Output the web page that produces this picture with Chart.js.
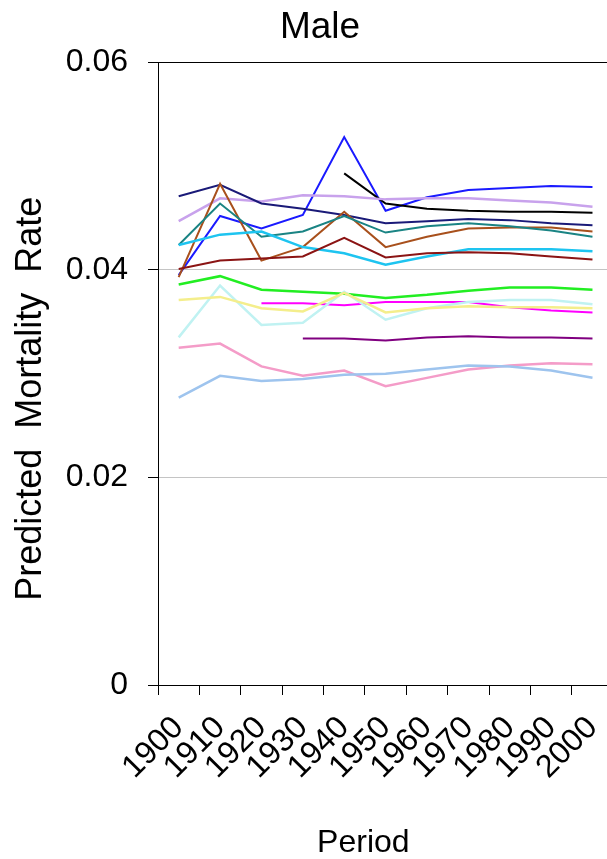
<!DOCTYPE html>
<html>
<head>
<meta charset="utf-8">
<script src="https://cdn.jsdelivr.net/npm/chart.js@4/dist/chart.umd.min.js"></script>
<style>
  html, body { margin: 0; padding: 0; overflow: hidden; background: #fff; }
  #wrap { width: 634px; height: 859px; }
</style>
</head>
<body>
<div id="wrap"><canvas id="myChart" width="634" height="859"></canvas></div>
<script>
// periods on the x axis
const periods = ['1900', '1910', '1920', '1930', '1940', '1950', '1960', '1970', '1980', '1990', '2000'];
const yTicks = [0, 0.02, 0.04, 0.06];

// one small array per cohort line
const navy = [0.0471, 0.0482, 0.0464, 0.0459, 0.0453, 0.0445, 0.0447, 0.0449, 0.0448, 0.0445, 0.0443];
const brown = [0.0393, 0.0483, 0.0409, 0.0422, 0.0456, 0.0422, 0.0432, 0.0440, 0.0441, 0.0441, 0.0437];
const blue = [0.0395, 0.0452, 0.0440, 0.0453, 0.0528, 0.0457, 0.0470, 0.0477, 0.0479, 0.0481, 0.0480];
const lavender = [0.0447, 0.0469, 0.0466, 0.0472, 0.0471, 0.0468, 0.0469, 0.0469, 0.0467, 0.0465, 0.0461];
const black = [null, null, null, null, 0.0493, 0.0464, 0.0459, 0.0457, 0.0456, 0.0456, 0.0455];
const teal = [0.0424, 0.0464, 0.0432, 0.0437, 0.0452, 0.0436, 0.0442, 0.0445, 0.0442, 0.0438, 0.0432];
const sky = [0.0424, 0.0434, 0.0437, 0.0422, 0.0416, 0.0405, 0.0413, 0.0420, 0.0420, 0.0420, 0.0418];
const darkRed = [0.0401, 0.0409, 0.0411, 0.0413, 0.0431, 0.0412, 0.0416, 0.0417, 0.0416, 0.0413, 0.0410];
const green = [0.0386, 0.0394, 0.0381, 0.0379, 0.0377, 0.0373, 0.0376, 0.0380, 0.0383, 0.0383, 0.0381];
const paleCyan = [0.0335, 0.0385, 0.0347, 0.0349, 0.0379, 0.0352, 0.0363, 0.0369, 0.0371, 0.0371, 0.0367];
const paleYellow = [0.0371, 0.0374, 0.0363, 0.0360, 0.0378, 0.0359, 0.0363, 0.0365, 0.0364, 0.0364, 0.0363];
const magenta = [null, null, 0.0368, 0.0368, 0.0366, 0.0369, 0.0369, 0.0369, 0.0364, 0.0361, 0.0359];
const purple = [null, null, null, 0.0334, 0.0334, 0.0332, 0.0335, 0.0336, 0.0335, 0.0335, 0.0334];
const pink = [0.0325, 0.0329, 0.0307, 0.0298, 0.0303, 0.0288, 0.0296, 0.0304, 0.0308, 0.0310, 0.0309];
const lightBlue = [0.0277, 0.0298, 0.0293, 0.0295, 0.0299, 0.0300, 0.0304, 0.0308, 0.0307, 0.0303, 0.0296];

const FONT = "'Liberation Sans', Arial, Helvetica, sans-serif";

const line = (data, color, width) => ({
    data: data,
    borderColor: color,
    backgroundColor: color,
    borderWidth: width || 2,
    pointRadius: 0,
    tension: 0,
    fill: false
});

const ctx = document.getElementById('myChart').getContext('2d');

new Chart(ctx, {
    type: 'line',
    data: {
        labels: periods,
        datasets: [
            line(lightBlue, '#9ec4ee', 2.5),
            line(pink, '#f49cc8', 2.5),
            line(purple, '#800080'),
            line(paleYellow, '#f4ee8c', 2.5),
            line(paleCyan, '#c0f2f2', 2.5),
            line(magenta, '#ff00ff'),
            line(green, '#22ee22', 2.5),
            line(darkRed, '#8b1414'),
            line(sky, '#1ec4f0', 2.5),
            line(teal, '#1a8484'),
            line(brown, '#a8501c'),
            line(navy, '#1a1a78'),
            line(lavender, '#c8a2ec', 2.5),
            line(black, '#000000'),
            line(blue, '#1a1aff')
        ]
    },
    options: {
        responsive: false,
        animation: false,
        layout: { padding: { left: 14, right: 8, top: 0, bottom: 0 } },
        plugins: {
            legend: { display: false },
            tooltip: { enabled: false },
            title: {
                display: true,
                text: 'Male',
                color: '#000',
                font: { family: FONT, size: 37, weight: 'normal' },
                padding: { top: 6, bottom: 12 }
            }
        },
        scales: {
            x: {
                offset: true,
                grid: {
                    offset: true,
                    drawOnChartArea: false,
                    drawTicks: true,
                    tickLength: 10,
                    tickColor: '#000',
                    tickWidth: 1
                },
                border: { display: true, color: '#000', width: 1 },
                ticks: {
                    color: '#000',
                    font: { family: FONT, size: 32 },
                    maxRotation: 45,
                    minRotation: 45,
                    autoSkip: false,
                    padding: 14
                },
                title: {
                    display: true,
                    text: 'Period     ',
                    color: '#000',
                    font: { family: FONT, size: 32, lineHeight: 0.9 },
                    padding: { top: 0, bottom: 1 }
                },
                afterFit: scale => { scale.height = 174; }
            },
            y: {
                min: 0,
                max: 0.06,
                afterBuildTicks: scale => {
                    scale.ticks = yTicks.map(v => ({ value: v }));
                },
                grid: {
                    color: c => (c.tick && (c.tick.value === 0 || c.tick.value === 0.06)) ? '#000' : '#c4c4c4',
                    tickColor: '#000',
                    tickLength: 10,
                    lineWidth: 1
                },
                border: { display: true, color: '#000', width: 1 },
                ticks: {
                    color: '#000',
                    font: { family: FONT, size: 32 },
                    padding: 20,
                    callback: v => v === 0 ? '0' : v.toFixed(2)
                },
                title: {
                    display: true,
                    text: 'Predicted  Mortality  Rate     ',
                    color: '#000',
                    font: { family: FONT, size: 36, lineHeight: 0.8 },
                    padding: { top: 3, bottom: 0 }
                },
                afterFit: scale => { scale.width = 144; }
            }
        }
    }
});
</script>
</body>
</html>
